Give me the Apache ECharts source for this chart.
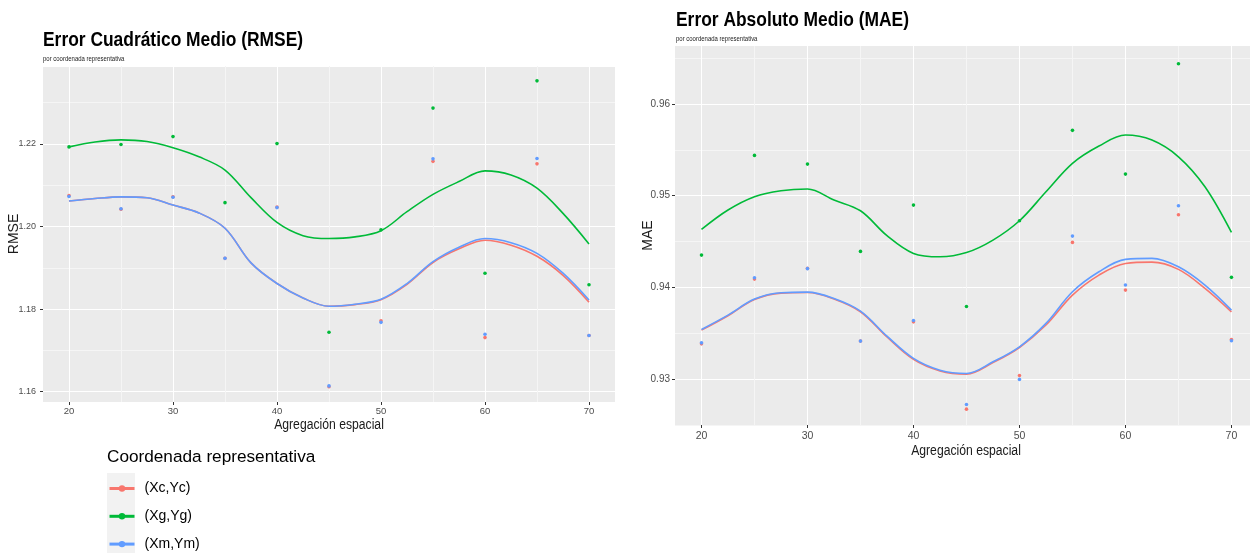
<!DOCTYPE html>
<html>
<head>
<meta charset="utf-8">
<script src="https://cdn.jsdelivr.net/npm/echarts@6/dist/echarts.min.js"></script>
<style>
html,body{margin:0;padding:0;background:#fff;}
#chart{width:1250px;height:553px;}
</style>
</head>
<body>
<div id="chart"></div>
<script>
// ---- data ----
const seriesNames = ['(Xc,Yc)', '(Xg,Yg)', '(Xm,Ym)'];
const xValues = [20, 25, 30, 35, 40, 45, 50, 55, 60, 65, 70];
const xTickLabels = [20, 30, 40, 50, 60, 70];
const rmseTickLabels = [1.16, 1.18, 1.20, 1.22];
const maeTickLabels = [0.93, 0.94, 0.95, 0.96];

const rmseXc = [1.2075, 1.2042, 1.2072, 1.1923, 1.2047, 1.1612, 1.1772, 1.2158, 1.1731, 1.2152, 1.1736];
const rmseXg = [1.2193, 1.2199, 1.2218, 1.2058, 1.2201, 1.1744, 1.1992, 1.2287, 1.1887, 1.2353, 1.1859];
const rmseXm = [1.2073, 1.2043, 1.2071, 1.1923, 1.2046, 1.1614, 1.1768, 1.2164, 1.1739, 1.2165, 1.1736];

const maeXc = [0.93385, 0.94091, 0.94208, 0.93415, 0.93625, 0.92673, 0.93040, 0.94491, 0.93971, 0.94793, 0.93433];
const maeXg = [0.94353, 0.95440, 0.95345, 0.94393, 0.94898, 0.93793, 0.94727, 0.95713, 0.95236, 0.96440, 0.94110];
const maeXm = [0.93396, 0.94105, 0.94205, 0.93415, 0.93640, 0.92724, 0.92997, 0.94560, 0.94026, 0.94891, 0.93418];

// smoothed (loess) curves
const smoothX = [20, 22.5, 25, 27.5, 30, 32.5, 35, 37.5, 40, 42.5, 45, 47.5, 50, 52.5, 55, 57.5, 60, 62.5, 65, 67.5, 70];
const rmseSmoothXc = [1.2062, 1.2068, 1.2072, 1.2070, 1.2052, 1.2033, 1.1996, 1.1912, 1.1862, 1.1827, 1.1807, 1.1811, 1.1823, 1.1860, 1.1913, 1.1946, 1.1967, 1.1955, 1.1928, 1.1882, 1.1817];
const rmseSmoothXg = [1.2193, 1.2205, 1.2210, 1.2206, 1.2191, 1.2169, 1.2137, 1.2070, 1.2010, 1.1978, 1.1971, 1.1975, 1.1990, 1.2036, 1.2078, 1.2109, 1.2135, 1.2125, 1.2093, 1.2032, 1.1958];
const rmseSmoothXm = [1.2062, 1.2068, 1.2072, 1.2070, 1.2052, 1.2033, 1.1996, 1.1912, 1.1862, 1.1827, 1.1807, 1.1812, 1.1824, 1.1862, 1.1915, 1.1950, 1.1971, 1.1961, 1.1935, 1.1887, 1.1822];

const maeSmoothXc = [0.93535, 0.93692, 0.93868, 0.93938, 0.93945, 0.93875, 0.93735, 0.93460, 0.93215, 0.93090, 0.93055, 0.93180, 0.93345, 0.93590, 0.93916, 0.94135, 0.94262, 0.94276, 0.94197, 0.93990, 0.93734];
const maeSmoothXg = [0.94633, 0.94844, 0.94989, 0.95054, 0.95073, 0.94953, 0.94836, 0.94565, 0.94371, 0.94334, 0.94380, 0.94516, 0.94727, 0.95043, 0.95353, 0.95542, 0.95662, 0.95607, 0.95425, 0.95098, 0.94600];
const maeSmoothXm = [0.93542, 0.93698, 0.93873, 0.93942, 0.93949, 0.93880, 0.93742, 0.93469, 0.93226, 0.93098, 0.93062, 0.93189, 0.93353, 0.93608, 0.93953, 0.94171, 0.94306, 0.94317, 0.94225, 0.94026, 0.93753];

// ---- styling ----
const colors = ['#F8766D', '#00BA38', '#619CFF'];
const FONT = '"Liberation Sans", Arial, sans-serif';
const MAJ = '#FFFFFF', MIN = '#F5F5F5', NONE = 'rgba(0,0,0,0)';

function pairs(xs, ys) { return xs.map((x, i) => [x, ys[i]]); }

// grid-line axes (carry the data; draw major + minor grid lines)
function xGridAxis(gridIndex, max) {
  return {
    type: 'value', gridIndex, min: 17.5, max, interval: 2.5, position: 'bottom',
    axisLine: { show: false }, axisTick: { show: false }, axisLabel: { show: false },
    splitLine: { show: true, lineStyle: { color: [NONE, MAJ, NONE, MIN], width: 1 } }
  };
}
function yGridAxis(gridIndex, min, max, cycle) {
  return {
    type: 'value', gridIndex, min, max, interval: 0.0025, position: 'left',
    axisLine: { show: false }, axisTick: { show: false }, axisLabel: { show: false },
    splitLine: { show: true, lineStyle: { color: cycle, width: 1 } }
  };
}
// tick/label axes
function xTickAxis(gridIndex, max, labelSize, labelMargin) {
  return {
    type: 'value', gridIndex, min: 17.5, max, interval: 2.5, position: 'bottom',
    axisLine: { show: false }, splitLine: { show: false },
    axisTick: { show: true, length: 3, customValues: xTickLabels, lineStyle: { color: '#333' } },
    axisLabel: { customValues: xTickLabels, fontSize: labelSize, color: '#4D4D4D', margin: labelMargin, fontFamily: FONT,
      formatter: v => String(v) }
  };
}
function yTickAxis(gridIndex, min, max, name, nameGap, ticks, labelSize, labelMargin) {
  return {
    type: 'value', gridIndex, min, max, interval: 0.0025, position: 'left',
    name, nameLocation: 'middle', nameGap, nameMoveOverlap: false,
    nameTextStyle: { fontSize: 14, color: '#1a1a1a', fontFamily: FONT },
    axisLine: { show: false }, splitLine: { show: false },
    axisTick: { show: true, length: 3, customValues: ticks, lineStyle: { color: '#333' } },
    axisLabel: { customValues: ticks, fontSize: labelSize, color: '#4D4D4D', margin: labelMargin, fontFamily: FONT,
      formatter: v => v.toFixed(2) }
  };
}

const panels = [
  { pts: [rmseXc, rmseXg, rmseXm], sm: [rmseSmoothXc, rmseSmoothXg, rmseSmoothXm] },
  { pts: [maeXc, maeXg, maeXm], sm: [maeSmoothXc, maeSmoothXg, maeSmoothXm] }
];

const series = [];
panels.forEach((p, gi) => {
  for (let k = 0; k < 3; k++) {
    series.push({
      name: seriesNames[k], type: 'line', xAxisIndex: gi, yAxisIndex: gi,
      data: pairs(smoothX, p.sm[k]), smooth: 0.35, showSymbol: false,
      symbol: 'circle', symbolSize: 6, z: 3 + k,
      lineStyle: { color: colors[k], width: 1.6 }, itemStyle: { color: colors[k] },
      silent: true
    });
  }
  for (let k = 0; k < 3; k++) {
    series.push({
      name: seriesNames[k], type: 'scatter', xAxisIndex: gi, yAxisIndex: gi,
      data: pairs(xValues, p.pts[k]), symbolSize: 3.6, z: 2,
      itemStyle: { color: colors[k], opacity: 1 }, silent: true
    });
  }
});

function gText(text, x, y, size, opts) {
  opts = opts || {};
  return {
    type: 'text', x, y, scaleX: opts.scaleX || 1, rotation: opts.rotation || 0, z: 10,
    style: { text, fontSize: size, fontWeight: opts.bold ? 'bold' : 'normal', fontFamily: FONT,
      fill: opts.color || '#000', align: opts.align || 'left', verticalAlign: 'middle' }
  };
}

const chart = echarts.init(document.getElementById('chart'), null, { renderer: 'canvas' });
chart.setOption({
  animation: false,
  backgroundColor: '#ffffff',
  legend: {
    data: seriesNames, orient: 'vertical', left: 108, top: 481.5, height: 71, padding: 0,
    itemWidth: 25, itemHeight: 8, itemGap: 13.8, selectedMode: false,
    lineStyle: { width: 3 },
    textStyle: { fontSize: 14, lineHeight: 14, color: '#000', fontFamily: FONT, padding: [0, 0, 0, 5] }
  },
  graphic: [
    { type: 'rect', left: 107, top: 473, shape: { width: 28, height: 81 }, style: { fill: '#F2F2F2' }, z: -1 },
    gText('Error Cuadrático Medio (RMSE)', 43, 40.5, 20, { bold: true, scaleX: 0.87 }),
    gText('por coordenada representativa', 43, 59, 6.5, { color: '#222', scaleX: 0.92 }),
    gText('Error Absoluto Medio (MAE)', 676, 20.5, 20, { bold: true, scaleX: 0.87 }),
    gText('por coordenada representativa', 676, 39, 6.5, { color: '#222', scaleX: 0.92 }),
    gText('Agregación espacial', 329, 425, 14, { align: 'center', scaleX: 0.87, color: '#1a1a1a' }),
    gText('Agregación espacial', 966, 451, 14, { align: 'center', scaleX: 0.87, color: '#1a1a1a' }),
    gText('Coordenada representativa', 107, 457, 17.2, {})
  ],
  grid: [
    { left: 43, top: 66, width: 572, height: 336, backgroundColor: '#EBEBEB', show: true, borderWidth: 0,
      containLabel: false, outerBoundsMode: 'none' },
    { left: 675, top: 46, width: 575, height: 379, backgroundColor: '#EBEBEB', show: true, borderWidth: 0,
      containLabel: false, outerBoundsMode: 'none' }
  ],
  xAxis: [
    xGridAxis(0, 72.5),
    xGridAxis(1, 71.75),
    xTickAxis(0, 72.5, 9.5, 4),
    xTickAxis(1, 71.75, 10.5, 6)
  ],
  yAxis: [
    yGridAxis(0, 1.1575, 1.2389, [NONE, MAJ, NONE, NONE, NONE, MIN, NONE, NONE]),
    yGridAxis(1, 0.925, 0.96633, [MIN, NONE, MAJ, NONE]),
    yTickAxis(0, 1.1575, 1.2389, 'RMSE', 22, rmseTickLabels, 9, 7),
    yTickAxis(1, 0.925, 0.96633, 'MAE', 20, maeTickLabels, 10, 5)
  ],
  series
});
</script>
</body>
</html>
